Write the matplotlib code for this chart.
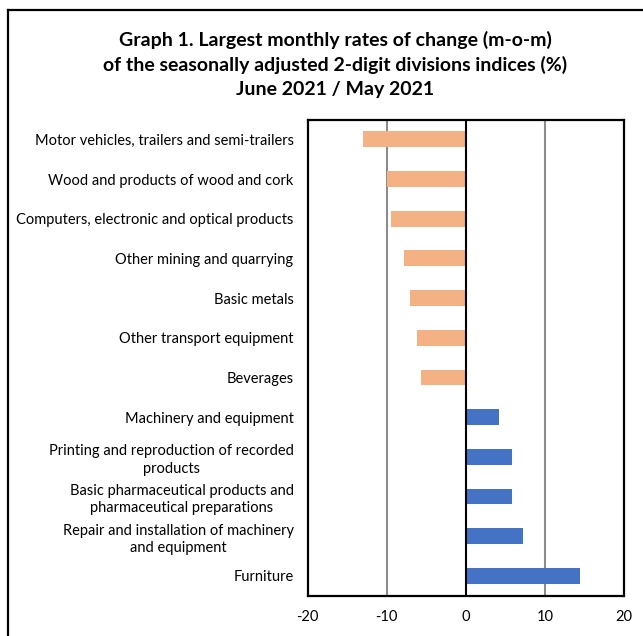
import matplotlib.pyplot as plt
from matplotlib.lines import Line2D

categories = [
    "Motor vehicles, trailers and semi-trailers",
    "Wood and products of wood and cork",
    "Computers, electronic and optical products",
    "Other mining and quarrying",
    "Basic metals",
    "Other transport equipment",
    "Beverages",
    "Machinery and equipment",
    "Printing and reproduction of recorded\nproducts",
    "Basic pharmaceutical products and\npharmaceutical preparations",
    "Repair and installation of machinery\nand equipment",
    "Furniture",
]
values = [-13.0, -9.9, -9.4, -7.8, -7.0, -6.1, -5.6, 4.2, 5.8, 5.9, 7.2, 14.5]
xticks = [-20, -10, 0, 10, 20]

plt.rcParams['font.family'] = ['Lato', 'DejaVu Sans']

fig = plt.figure(figsize=(6.43, 6.36), dpi=100)
ax = fig.add_axes([307.5 / 643, 1 - 595.7 / 636, (624 - 307.5) / 643, (595.7 - 119.5) / 636])

colors = ['#F4B183' if v < 0 else '#4472C4' for v in values]
ypos = list(range(len(categories)))
ax.barh(ypos, values, height=0.4, color=colors, zorder=3)

ax.set_xlim(-20, 20)
ax.set_ylim(len(categories) - 0.5, -0.5)
ax.set_xticks(xticks)
ax.set_xticklabels([str(t) for t in xticks], fontsize=10.5)
ax.set_yticks(ypos)
ax.set_yticklabels(categories, fontsize=10.5, linespacing=1.3)
for lbl in ax.get_yticklabels():
    lbl.set_multialignment('center')
ax.tick_params(length=0, pad=10)
ax.tick_params(axis='x', pad=10)

for t in [-10, 10]:
    ax.axvline(t, color='#8c8c8c', lw=1.5, zorder=1)
ax.axvline(0, color='black', lw=1.5, zorder=4)
for s in ax.spines.values():
    s.set_linewidth(1.6)
    s.set_color('black')

title_lines = [
    "Graph 1. Largest monthly rates of change (m-o-m)",
    "of the seasonally adjusted 2-digit divisions indices (%)",
    "June 2021 / May 2021",
]
for i, line in enumerate(title_lines):
    fig.text(335 / 643, 1 - (40 + 25 * i) / 636, line,
             ha='center', va='center', fontsize=14, fontweight='bold')

# outer frame (left and top only visible)
fig.add_artist(Line2D([8 / 643, 8 / 643], [0, 1 - 10 / 636], color='black', lw=1.6,
                      transform=fig.transFigure))
fig.add_artist(Line2D([8 / 643, 1], [1 - 10 / 636, 1 - 10 / 636], color='black', lw=1.6,
                      transform=fig.transFigure))

fig.savefig('out.png', dpi=100)
